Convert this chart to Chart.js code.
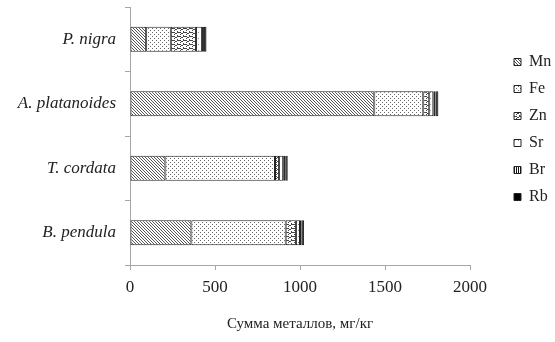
<!DOCTYPE html>
<html>
<head>
<meta charset="utf-8">
<script src="https://cdn.jsdelivr.net/npm/chart.js@4"></script>
<style>
  body { margin: 0; background: #fff; }
  #wrap { width: 555px; height: 342px; }
</style>
</head>
<body>
<div id="wrap"><canvas id="myChart" width="555" height="342"></canvas></div>
<script>
// данные
const species = ["P. nigra", "A. platanoides", "T. cordata", "B. pendula"];
const mn = [95, 1437, 208, 361];
const fe = [145, 288, 645, 555];
const zn = [148, 35, 24, 60];
const sr = [35, 24, 24, 24];
const br = [12, 12, 12, 10];
const rb = [15, 18, 15, 14];
const xTicks = [0, 500, 1000, 1500, 2000];

// штриховки
function makePattern(w, h, draw) {
  const c = document.createElement("canvas");
  c.width = w;
  c.height = h;
  const g = c.getContext("2d");
  g.fillStyle = "#fff";
  g.fillRect(0, 0, w, h);
  draw(g);
  return g.createPattern(c, "repeat");
}

const patMn = makePattern(3, 3, (g) => {
  g.fillStyle = "#555";
  for (let i = 0; i < 3; i++) g.fillRect(i, i, 1, 1);
});
const patFe = makePattern(4, 4, (g) => {
  g.fillStyle = "#666";
  g.fillRect(0, 0, 1, 1);
  g.fillRect(2, 2, 1, 1);
});
const patZn = makePattern(6, 4, (g) => {
  g.fillStyle = "#444";
  g.fillRect(0, 0, 1, 1);
  g.fillRect(1, 1, 1, 1);
  g.fillRect(2, 1, 1, 1);
  g.fillRect(3, 0, 1, 1);
  g.fillRect(4, 0, 1, 1);
  g.fillRect(5, 0, 1, 1);
  g.fillRect(0, 2, 1, 1);
  g.fillRect(3, 3, 1, 1);
});
const patSr = makePattern(4, 6, (g) => {
  g.fillStyle = "#888";
  g.fillRect(2, 2, 1, 1);
});
const patBr = makePattern(2, 2, (g) => {
  g.fillStyle = "#111";
  g.fillRect(0, 0, 1, 2);
});

function ds(label, data, fill) {
  return {
    label: label,
    data: data,
    backgroundColor: fill,
    borderColor: "#222",
    borderWidth: 1,
    borderSkipped: false,
    categoryPercentage: 1,
    barPercentage: 0.39,
  };
}

const serif = "'Liberation Serif', 'Times New Roman', serif";

// сдвиг легенды как в оригинале
const legendPlace = {
  id: "legendPlace",
  afterInit(chart) {
    const orig = chart.legend.fit;
    chart.legend.fit = function () {
      orig.call(this);
      this.width = 85;
    };
  },
  afterLayout(chart) {
    chart.legend.left = 503;
    chart.legend.top = 43;
  },
};

const ctx = document.getElementById("myChart").getContext("2d");
const myChart = new Chart(ctx, {
  type: "bar",
  data: {
    labels: species,
    datasets: [
      ds("Mn", mn, patMn),
      ds("Fe", fe, patFe),
      ds("Zn", zn, patZn),
      ds("Sr", sr, patSr),
      ds("Br", br, patBr),
      ds("Rb", rb, "#000"),
    ],
  },
  plugins: [legendPlace],
  options: {
    indexAxis: "y",
    responsive: false,
    animation: false,
    layout: { padding: { top: 7, right: 0, left: 0, bottom: 0 } },
    plugins: {
      tooltip: { enabled: false },
      legend: {
        position: "right",
        align: "start",
        labels: {
          boxWidth: 7,
          boxHeight: 7,
          padding: 11,
          color: "#222",
          font: { family: serif, size: 16 },
        },
      },
    },
    scales: {
      x: {
        stacked: true,
        min: 0,
        max: 2000,
        afterBuildTicks: (axis) => {
          axis.ticks = xTicks.map((v) => ({ value: v }));
        },
        afterFit: (axis) => {
          axis.height = 77;
        },
        grid: {
          drawOnChartArea: false,
          drawTicks: true,
          tickLength: 5,
          color: "#a6a6a6",
        },
        border: { color: "#a6a6a6" },
        ticks: {
          color: "#222",
          padding: 7,
          font: { family: serif, size: 17 },
          callback: (v) => String(v),
        },
        title: {
          display: true,
          text: "Сумма металлов, мг/кг",
          color: "#222",
          padding: { top: 14, bottom: 9 },
          font: { family: serif, size: 15 },
        },
      },
      y: {
        stacked: true,
        afterFit: (axis) => {
          axis.width = 130;
          axis.paddingTop = 0;
          axis.paddingBottom = 0;
        },
        grid: {
          offset: true,
          drawOnChartArea: false,
          tickLength: 5,
          color: "#a6a6a6",
        },
        border: { color: "#a6a6a6" },
        ticks: {
          color: "#222",
          padding: 9,
          font: { family: serif, size: 17, style: "italic" },
        },
      },
    },
  },
});
</script>
</body>
</html>
